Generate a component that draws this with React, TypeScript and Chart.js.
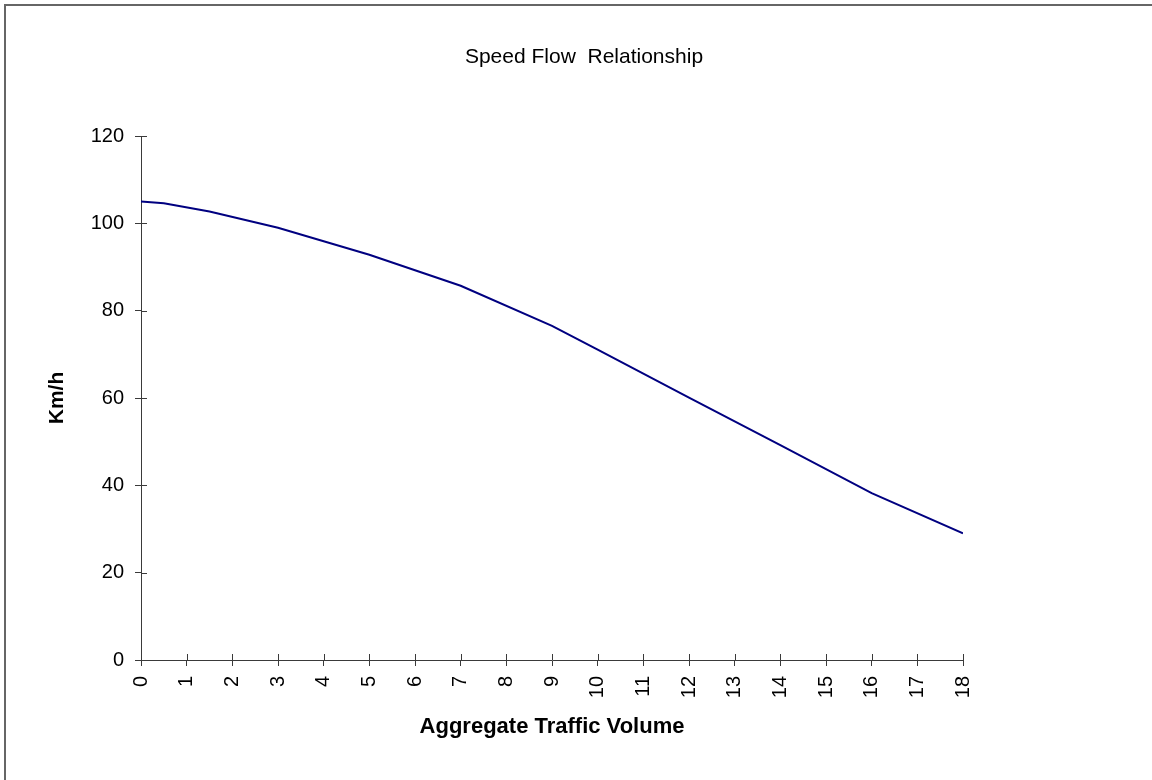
import React, { useEffect, useRef } from "react";
import { Chart, registerables } from "chart.js";

Chart.register(...registerables);

const TITLE = "Speed Flow  Relationship";
const X_TITLE = "Aggregate Traffic Volume";
const Y_TITLE = "Km/h";

const volume = [0, 0.5, 1.5, 3, 5, 7, 9, 10, 12, 14, 16, 18];
const speed = [105, 104.6, 102.7, 99, 92.8, 85.7, 76.5, 71.1, 60.1, 49.2, 38.2, 29];

const X_MIN = 0;
const X_MAX = 18;
const Y_MIN = 0;
const Y_MAX = 120;
const Y_STEP = 20;

const FONT = '"Liberation Sans", Arial, sans-serif';
const AXIS_COLOR = "#3a3a3a";
const LINE_COLOR = "#000080";

const extrasPlugin = {
  id: "extras",
  afterDraw(chart: any) {
    const { ctx, chartArea } = chart;
    const xs = chart.scales.x;
    const ys = chart.scales.y;
    ctx.save();
    ctx.strokeStyle = AXIS_COLOR;
    ctx.lineWidth = 1;
    ctx.beginPath();
    ys.ticks.forEach((t: any) => {
      const py = Math.round(ys.getPixelForValue(t.value)) + 0.5;
      ctx.moveTo(chartArea.left, py);
      ctx.lineTo(chartArea.left + 6, py);
    });
    xs.ticks.forEach((t: any) => {
      const px = Math.round(xs.getPixelForValue(t.value)) + 0.5;
      ctx.moveTo(px, chartArea.bottom);
      ctx.lineTo(px, chartArea.bottom - 6);
    });
    ctx.stroke();
    ctx.font = `21px ${FONT}`;
    ctx.fillStyle = "#000";
    ctx.textAlign = "center";
    ctx.textBaseline = "middle";
    ctx.fillText(TITLE, 584, 57);
    ctx.restore();
  },
};

export default function App() {
  const ref = useRef<HTMLCanvasElement>(null);

  useEffect(() => {
    document.body.style.margin = "0";
    const canvas = ref.current;
    if (!canvas) return;
    const chart = new Chart(canvas, {
      type: "line",
      data: {
        datasets: [
          {
            label: "Speed",
            data: volume.map((v, i) => ({ x: v, y: speed[i] })),
            borderColor: LINE_COLOR,
            borderWidth: 2,
            pointRadius: 0,
            tension: 0,
            fill: false,
          },
        ],
      },
      options: {
        responsive: false,
        animation: false,
        devicePixelRatio: 1,
        layout: { padding: { left: 45, right: 189, top: 136, bottom: 40 } },
        plugins: {
          legend: { display: false },
          tooltip: { enabled: false },
          title: { display: false },
        },
        scales: {
          x: {
            type: "linear",
            min: X_MIN,
            max: X_MAX,
            afterFit: (s: any) => {
              s.height = 80;
            },
            grid: {
              display: true,
              drawOnChartArea: false,
              drawTicks: true,
              tickLength: 6,
              color: AXIS_COLOR,
            },
            border: { display: true, color: AXIS_COLOR, width: 1 },
            ticks: {
              stepSize: 1,
              autoSkip: false,
              minRotation: 90,
              maxRotation: 90,
              padding: 10,
              color: "#000",
              font: { family: FONT, size: 20 },
            },
            title: {
              display: true,
              text: X_TITLE,
              color: "#000",
              font: { family: FONT, size: 22, weight: "bold" },
              padding: { top: 0, bottom: 0 },
            },
          },
          y: {
            min: Y_MIN,
            max: Y_MAX,
            afterFit: (s: any) => {
              s.width = 96;
            },
            grid: {
              display: true,
              drawOnChartArea: false,
              drawTicks: true,
              tickLength: 6,
              color: AXIS_COLOR,
            },
            border: { display: true, color: AXIS_COLOR, width: 1 },
            ticks: {
              stepSize: Y_STEP,
              padding: 11,
              color: "#000",
              font: { family: FONT, size: 20 },
            },
            title: {
              display: true,
              text: Y_TITLE,
              color: "#000",
              font: { family: FONT, size: 21, weight: "bold" },
              padding: { top: 0, bottom: 0 },
            },
          },
        },
      },
      plugins: [extrasPlugin],
    });
    return () => chart.destroy();
  }, []);

  return (
    <div
      style={{
        position: "relative",
        width: 1152,
        height: 780,
        overflow: "hidden",
        background: "#fff",
      }}
    >
      <div
        style={{
          position: "absolute",
          left: 4,
          top: 4,
          width: 2000,
          height: 2000,
          border: "2px solid #666",
          boxSizing: "border-box",
        }}
      />
      <canvas
        ref={ref}
        width={1152}
        height={780}
        style={{ position: "absolute", left: 0, top: 0, width: 1152, height: 780 }}
      />
    </div>
  );
}
